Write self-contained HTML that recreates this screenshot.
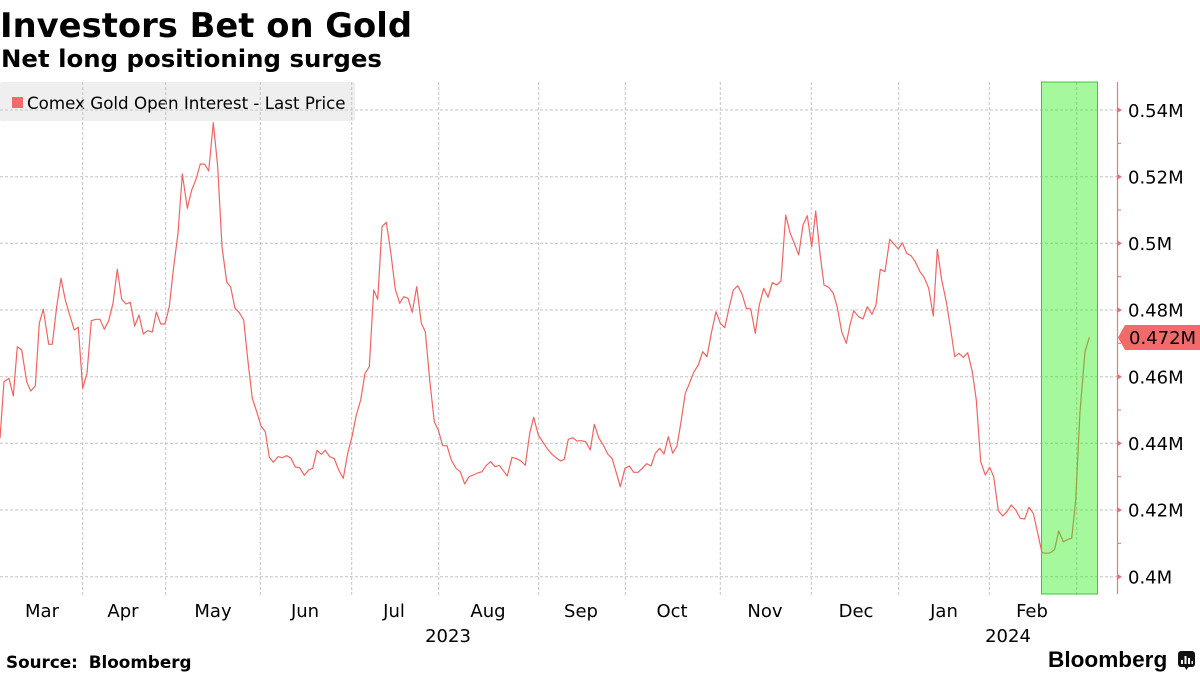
<!DOCTYPE html>
<html><head><meta charset="utf-8"><style>
html,body{margin:0;padding:0;background:#fff;width:1200px;height:675px;overflow:hidden}
svg{display:block}
text{font-family:"DejaVu Sans","Liberation Sans",sans-serif;fill:#000}
</style></head><body>
<svg width="1200" height="675" viewBox="0 0 1200 675" xmlns="http://www.w3.org/2000/svg">
<text x="0" y="37" font-size="33.8" font-weight="bold">Investors Bet on Gold</text>
<text x="1" y="67" font-size="24.4" font-weight="bold">Net long positioning surges</text>
<!-- legend box -->
<rect x="0" y="82" width="355" height="39" fill="#efefef" rx="2"/>
<rect x="12" y="97" width="11" height="11" fill="#f26b6b"/>
<text x="27" y="109" font-size="16.7">Comex Gold Open Interest - Last Price</text>
<!-- grid -->
<g stroke="#c4c4c4" stroke-width="1" stroke-dasharray="3,2" fill="none">
<line x1="0" y1="110" x2="1117" y2="110"/>
<line x1="0" y1="176.7" x2="1117" y2="176.7"/>
<line x1="0" y1="243.3" x2="1117" y2="243.3"/>
<line x1="0" y1="310" x2="1117" y2="310"/>
<line x1="0" y1="376.7" x2="1117" y2="376.7"/>
<line x1="0" y1="443.3" x2="1117" y2="443.3"/>
<line x1="0" y1="510" x2="1117" y2="510"/>
<line x1="0" y1="576.7" x2="1117" y2="576.7"/>
<line x1="82.7" y1="82" x2="82.7" y2="596"/>
<line x1="165.7" y1="82" x2="165.7" y2="596"/>
<line x1="260.3" y1="82" x2="260.3" y2="596"/>
<line x1="351.7" y1="82" x2="351.7" y2="596"/>
<line x1="438.7" y1="82" x2="438.7" y2="596"/>
<line x1="538.7" y1="82" x2="538.7" y2="596"/>
<line x1="625.3" y1="82" x2="625.3" y2="596"/>
<line x1="720.3" y1="82" x2="720.3" y2="596"/>
<line x1="811.3" y1="82" x2="811.3" y2="596"/>
<line x1="898.7" y1="82" x2="898.7" y2="596"/>
<line x1="989.3" y1="82" x2="989.3" y2="596"/>
<line x1="1076.7" y1="82" x2="1076.7" y2="596"/>
</g>
<!-- series -->
<polyline fill="none" stroke="#f06464" stroke-width="1.2" stroke-linejoin="round" points="0,438.3 4,381.7 9,378.3 13.3,396 17.3,346.7 21.7,350 26.7,381.7 30.7,391 35.3,386 39.3,323.3 43.3,309.3 48.7,344.3 52.3,344.3 56.7,306.7 61,278.3 65.3,300 70,316 74.3,330 78.3,327.3 82.7,388.3 87,373.3 91.3,320.7 96,319.3 100,319.3 104.3,329.3 108.7,320.7 113,303.3 117.3,269.3 121.7,299.3 126,304 130.3,302.3 134.7,326 139,315 143.3,334 147.7,330.7 152.3,332 156.3,312 160.7,324 165,324 169.3,306.7 173.7,266.7 178,233.3 182.3,174 187.3,208.3 191.7,190 196,179.3 200.3,164 204.7,164.3 208.7,171 213.3,122.7 217.7,166.7 222,246.7 226.7,282 230.7,287.3 235,308.3 239.3,312.7 243.7,320 248,361.7 252.3,398.3 256.7,411.7 261,426 265.3,431.7 269.3,457.3 273.3,462.3 278,456.7 282.3,457.7 286.7,455.7 291,458.3 295.3,467 299.7,467.7 304.3,475.3 308.7,470 312.7,468.3 317,450.3 321.3,454.3 325.3,450.3 329.7,456.7 334.3,458.7 338.7,470 343.3,478.3 347.7,453.3 352,436.7 356.3,415 360.7,400 365,373.3 369.3,366.7 373.7,290 377.7,299.3 382,226.7 386.3,222.3 390.7,251.7 395.3,289.3 399.7,303.3 403.7,296.7 408,298.3 412.3,312.3 416.7,286.7 421.3,323.3 425.3,331.7 429.7,380 434.3,421.7 438.3,430 442.7,445.7 447,445.7 451.3,460 456,468.3 460.3,471.7 464.7,484 469,476.7 473.3,475 477.7,473 482,471.7 486.3,465.3 490.7,461.7 495,466.7 499.3,465.3 503.3,470.7 507.3,476 512,457.3 516.7,458.7 521,461 525.3,465.3 529.7,433.3 533.7,417.3 538.3,435 542.7,441.7 547,448.3 551.7,454 556.7,458.3 560.7,461 564.3,459.3 568.3,439.3 572.7,437.7 577,441 581.3,440.7 585.7,441.7 590.3,450 594.3,424.3 599,438.3 603.3,445 607.7,454 612,458.3 616.3,472.7 620.3,486.7 625,468.3 629.3,466 633.7,472.3 638,472.3 642.3,468.3 646.7,463.7 651,466 655.3,453.3 659.7,448.3 664,454 668.3,436.7 672.7,453.3 677,446 681.3,420 685.3,393.3 689.7,382.7 694,371.7 698.3,365 702.7,351.7 707,356.7 711.3,333.3 716,311.7 720.3,323.3 724.7,327.7 729,308.3 733.3,290 737.7,285.7 742,294 746.3,308.3 750.7,309 755.3,333.3 759.3,305 763.7,288.3 768,297.3 772.3,282.7 776.7,285 781,281 785.7,215 790,232.7 794.3,243.3 798.7,255 803,225 807.3,215.7 811.7,246.7 815.7,211 820,253.3 824,285 828.7,287.3 833.3,293.3 837.3,307.3 841.7,331.7 846.3,343.3 850,325 853.7,310.7 858.7,316.7 863,319 867.3,306.7 872,314.3 876,305 880.3,269.3 885,271.7 889.7,239.3 894,244 898.3,249 902.3,242.7 906.7,253.3 911,255.7 915.3,261.7 920,271.7 924.3,277.7 928.7,288.3 933.3,316 937.3,249.3 941.7,280 946.3,301.7 950.3,326.7 954.7,356.7 959,353.3 963.3,357.3 967.7,352.7 972.3,371.7 976.3,400 980.7,461.7 985.3,475 989.7,467.3 993.7,476.7 998.3,510.7 1002.7,516 1007,511.7 1011.3,505 1015.7,510 1020.3,518.3 1024.7,519 1029,507.3 1033.3,513.3 1037.7,533.3 1042,552.7 1046.7,553.3 1050.7,552.7 1054.7,549.3 1058.7,531 1063.3,541.7 1068,539.3 1071.7,538.3 1075.7,500 1080,411.7 1085,351.7 1089.3,337.3"/>
<!-- green band -->
<rect x="1041.5" y="82" width="56" height="512" fill="rgb(40,240,20)" fill-opacity="0.42" stroke="#3cc83c" stroke-width="1"/>
<!-- right axis -->
<line x1="1117.5" y1="82" x2="1117.5" y2="594" stroke="#f07878" stroke-width="1.2"/>
<g fill="#f07070">
<polygon points="1117,107 1122,110 1117,113"/>
<polygon points="1117,173.7 1122,176.7 1117,179.7"/>
<polygon points="1117,240.3 1122,243.3 1117,246.3"/>
<polygon points="1117,307 1122,310 1117,313"/>
<polygon points="1117,373.7 1122,376.7 1117,379.7"/>
<polygon points="1117,440.3 1122,443.3 1117,446.3"/>
<polygon points="1117,507 1122,510 1117,513"/>
<polygon points="1117,573.7 1122,576.7 1117,579.7"/>
</g>
<g stroke="#f07070" stroke-width="1">
<line x1="1117" y1="143.3" x2="1121" y2="143.3"/>
<line x1="1117" y1="210" x2="1121" y2="210"/>
<line x1="1117" y1="276.7" x2="1121" y2="276.7"/>
<line x1="1117" y1="343.3" x2="1121" y2="343.3"/>
<line x1="1117" y1="410" x2="1121" y2="410"/>
<line x1="1117" y1="476.7" x2="1121" y2="476.7"/>
<line x1="1117" y1="543.3" x2="1121" y2="543.3"/>
</g>
<g font-size="18">
<text x="1128" y="117">0.54M</text>
<text x="1128" y="183.5">0.52M</text>
<text x="1128" y="250">0.5M</text>
<text x="1128" y="316.5">0.48M</text>
<text x="1128" y="383.5">0.46M</text>
<text x="1128" y="450">0.44M</text>
<text x="1128" y="516.5">0.42M</text>
<text x="1128" y="583.5">0.4M</text>
</g>
<!-- last price tag -->
<polygon points="1118,337.5 1125,325 1200,325 1200,350 1125,350" fill="#f26b6b"/>
<text x="1129" y="344" font-size="18">0.472M</text>
<!-- x axis labels -->
<g font-size="18" text-anchor="middle">
<text x="42" y="617">Mar</text>
<text x="123" y="617">Apr</text>
<text x="213" y="617">May</text>
<text x="305" y="617">Jun</text>
<text x="394" y="617">Jul</text>
<text x="488" y="617">Aug</text>
<text x="581" y="617">Sep</text>
<text x="672" y="617">Oct</text>
<text x="765" y="617">Nov</text>
<text x="856" y="617">Dec</text>
<text x="944" y="617">Jan</text>
<text x="1032" y="617">Feb</text>
<text x="448" y="642">2023</text>
<text x="1008" y="642">2024</text>
</g>
<!-- footer -->
<text x="6" y="668" font-size="16.8" font-weight="bold" word-spacing="5">Source: Bloomberg</text>
<text x="1048" y="667" font-size="22.6" font-weight="bold" style="font-family:'Liberation Sans',sans-serif">Bloomberg</text>
<rect x="1178" y="651" width="17" height="16" rx="3" fill="#111"/>
<polygon points="1184,666 1189,666 1186.5,670" fill="#111"/>
<g fill="#fff">
<rect x="1181" y="660" width="2" height="4"/>
<rect x="1184.5" y="656" width="2" height="8"/>
<rect x="1188" y="658" width="2" height="6"/>
<rect x="1191.5" y="661" width="1.5" height="3"/>
</g>
</svg>
</body></html>
